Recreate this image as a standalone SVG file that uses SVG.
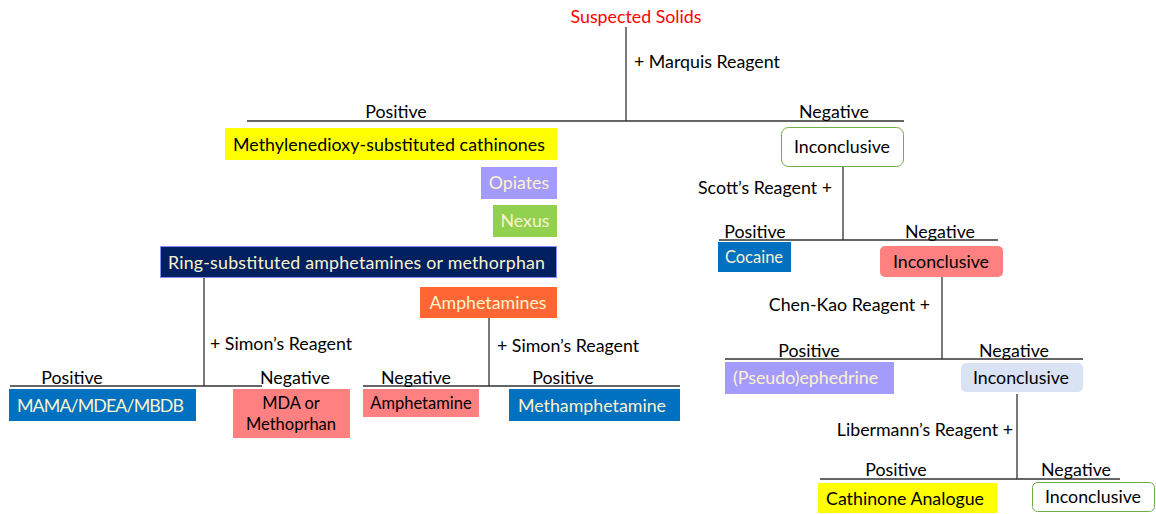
<svg xmlns="http://www.w3.org/2000/svg" width="1156" height="514" viewBox="0 0 1156 514">
<style>
text{font-family:Lato,"Liberation Sans",sans-serif;font-size:17.8px;fill:#000}
.c{text-anchor:middle}
.e{text-anchor:end}
.lt{fill:#fbf3cc}
.sm{font-size:16.5px}
.ln{stroke:#333;stroke-width:1.3;fill:none}
</style>
<rect width="1156" height="514" fill="#fff"/>
<g id="connectors">
<path class="ln" d="M626 27V121M247 121H904"/>
<path class="ln" d="M204 278V386M10 386H262"/>
<path class="ln" d="M489 318V386M363 386H680"/>
<path class="ln" d="M843 167V240M719 240H998"/>
<path class="ln" d="M942 277V359M725 359H1083"/>
<path class="ln" d="M1017 394V479M820 479H1120"/>
</g>
<g id="labels">
<text x="634" y="68">+ Marquis Reagent</text>
<text class="c" x="396" y="118">Positive</text>
<text class="c" x="834" y="118">Negative</text>
<text x="210" y="350">+ Simon’s Reagent</text>
<text class="c" x="72" y="384">Positive</text>
<text class="c" x="295" y="384">Negative</text>
<text x="497" y="352">+ Simon’s Reagent</text>
<text class="c" x="416" y="384">Negative</text>
<text class="c" x="563" y="384">Positive</text>
<text class="e" x="832" y="194">Scott’s Reagent +</text>
<text class="c" x="755" y="238">Positive</text>
<text class="c" x="940" y="238">Negative</text>
<text class="e" x="930" y="311">Chen-Kao Reagent +</text>
<text class="c" x="809" y="357">Positive</text>
<text class="c" x="1014" y="357">Negative</text>
<text class="e" x="1013" y="436">Libermann’s Reagent +</text>
<text class="c" x="896" y="476">Positive</text>
<text class="c" x="1076" y="476">Negative</text>
</g>
<g id="suspected-solids"><text class="c" x="636" y="23" style="fill:#ff0000">Suspected Solids</text></g>
<g id="methylenedioxy"><rect x="225" y="128" width="332" height="32" fill="#ffff00"/><text x="233" y="151" textLength="312">Methylenedioxy-substituted cathinones</text></g>
<g id="opiates"><rect x="481" y="167" width="76" height="32" fill="#a49bff"/><text class="c lt" x="519" y="189">Opiates</text></g>
<g id="nexus"><rect x="493" y="205" width="64" height="32" fill="#92d050"/><text class="c lt" x="525" y="227">Nexus</text></g>
<g id="ring-substituted"><rect x="160.5" y="246.5" width="396" height="31" fill="#002060" stroke="#8c8cff"/><text class="lt" x="168" y="269" textLength="377">Ring-substituted amphetamines or methorphan</text></g>
<g id="amphetamines"><rect x="420" y="287" width="137" height="31" fill="#ff6633"/><text class="c lt" x="488" y="309">Amphetamines</text></g>
<g id="mama"><rect x="9" y="389" width="187" height="32" fill="#0070c0"/><text x="17" y="412" class="lt" textLength="167">MAMA/MDEA/MBDB</text></g>
<g id="mda"><rect x="233" y="389" width="117" height="49" fill="#ff8080"/><text class="c sm" x="291" y="409">MDA or</text><text class="c sm" x="291" y="430">Methoprhan</text></g>
<g id="amphetamine"><rect x="363" y="389" width="116" height="28" fill="#ff8080"/><text class="c sm" x="421" y="409">Amphetamine</text></g>
<g id="methamphetamine"><rect x="509" y="389" width="171" height="32" fill="#0070c0"/><text class="c lt" x="592" y="412">Methamphetamine</text></g>
<g id="inconclusive-1"><rect x="781.5" y="127.5" width="122" height="39" rx="7" fill="#fff" stroke="#70ad47"/><text class="c" x="842" y="153">Inconclusive</text></g>
<g id="cocaine"><rect x="718" y="242" width="73" height="30" fill="#0070c0"/><text class="c lt sm" x="754" y="263">Cocaine</text></g>
<g id="inconclusive-2"><rect x="880" y="246" width="123" height="31" rx="5" fill="#ff8080"/><text class="c" x="941" y="268">Inconclusive</text></g>
<g id="pseudoephedrine"><rect x="725" y="362" width="169" height="32" fill="#a49bff"/><text x="733" y="384" class="lt">(Pseudo)ephedrine</text></g>
<g id="inconclusive-3"><rect x="961" y="363" width="122" height="29" rx="5" fill="#dae3f3"/><text class="c" x="1021" y="384">Inconclusive</text></g>
<g id="cathinone-analogue"><rect x="818" y="483" width="179" height="30" fill="#ffff00"/><text x="826" y="505">Cathinone Analogue</text></g>
<g id="inconclusive-4"><rect x="1032.5" y="482.5" width="122" height="29" rx="5" fill="#fff" stroke="#70ad47"/><text class="c" x="1093" y="503">Inconclusive</text></g>
</svg>
